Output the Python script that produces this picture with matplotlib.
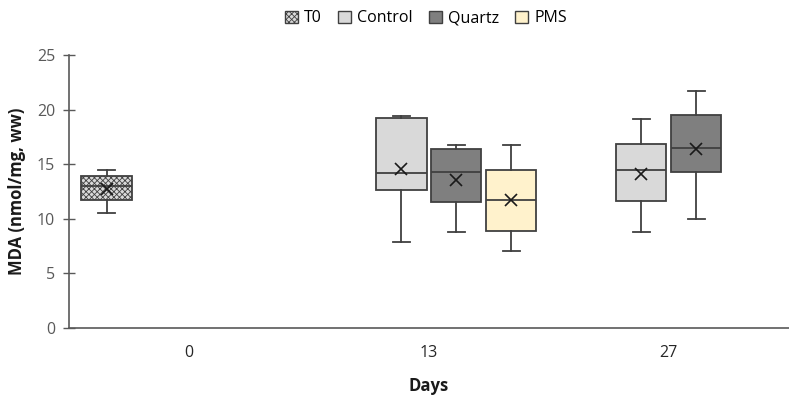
import matplotlib.pyplot as plt
from matplotlib.patches import Patch

plt.rcParams['font.family'] = ['Open Sans', 'DejaVu Sans']
plt.rcParams['hatch.linewidth'] = 0.6

days = ['0', '13', '27']
series = ['T0', 'Control', 'Quartz', 'PMS']
colors = ['#d9d9d9', '#d9d9d9', '#7f7f7f', '#fff2cc']

# (day index, whislo, q1, med, q3, whishi, mean)
t0 = [(0, 10.5, 11.7, 13.0, 13.9, 14.5, 12.7)]
control = [(1, 7.9, 12.6, 14.2, 19.2, 19.45, 14.6),
           (2, 8.8, 11.65, 14.5, 16.85, 19.1, 14.1)]
quartz = [(1, 8.8, 11.55, 14.3, 16.4, 16.75, 13.55),
          (2, 10.0, 14.25, 16.5, 19.5, 21.7, 16.4)]
pms = [(1, 7.0, 8.9, 11.7, 14.5, 16.75, 11.75)]

fig = plt.figure(figsize=(7.89, 3.96), dpi=100)
ax = fig.add_axes([0.0875, 0.172, 0.912, 0.689])

edge = '#404040'
slot = 0.229
for j, data in enumerate([t0, control, quartz, pms]):
    stats = []
    pos = []
    for d, lo, q1, med, q3, hi, mean in data:
        stats.append(dict(whislo=lo, q1=q1, med=med, q3=q3, whishi=hi, mean=mean, fliers=[]))
        pos.append(d + (j - 1.5) * slot)
    bp = ax.bxp(stats, positions=pos, widths=0.21, patch_artist=True, showmeans=True,
                meanprops=dict(marker='x', markeredgecolor='#1a1a1a', markersize=8, markeredgewidth=1.2),
                medianprops=dict(color=edge, linewidth=1.3),
                whiskerprops=dict(color=edge, linewidth=1.3),
                capprops=dict(color=edge, linewidth=1.3),
                boxprops=dict(edgecolor=edge, linewidth=1.3),
                capwidths=0.07)
    for b in bp['boxes']:
        b.set_facecolor(colors[j])
        if j == 0:
            b.set_hatch('xxxxxx')

ax.set_xlim(-0.5, 2.5)
ax.set_ylim(0, 25)
ax.set_xticks(range(3))
ax.set_xticklabels(days)
ax.set_yticks(range(0, 26, 5))
ax.tick_params(axis='x', length=0, labelsize=11.5, labelcolor='#262626', pad=12)
ax.tick_params(axis='y', direction='inout', length=8, width=1, color='#595959',
               labelsize=11.5, labelcolor='#595959', pad=6)
for s in ['top', 'right']:
    ax.spines[s].set_visible(False)
for s in ['left', 'bottom']:
    ax.spines[s].set_color('#595959')
    ax.spines[s].set_linewidth(1.2)

ax.set_ylabel('MDA (nmol/mg, ww)', fontsize=12, fontweight='bold', color='#1a1a1a', labelpad=8)
ax.set_xlabel('Days', fontsize=12, fontweight='bold', color='#1a1a1a', labelpad=12)

handles = [Patch(facecolor=colors[j], edgecolor=edge, hatch='xxxxxx' if j == 0 else None)
           for j in range(4)]
fig.legend(handles, series, loc='upper center', bbox_to_anchor=(0.54, 1.01), ncol=4,
           frameon=False, fontsize=11.5, handlelength=0.8, handleheight=0.8,
           handletextpad=0.4, columnspacing=1.0)

fig.savefig('out.png', dpi=100)
